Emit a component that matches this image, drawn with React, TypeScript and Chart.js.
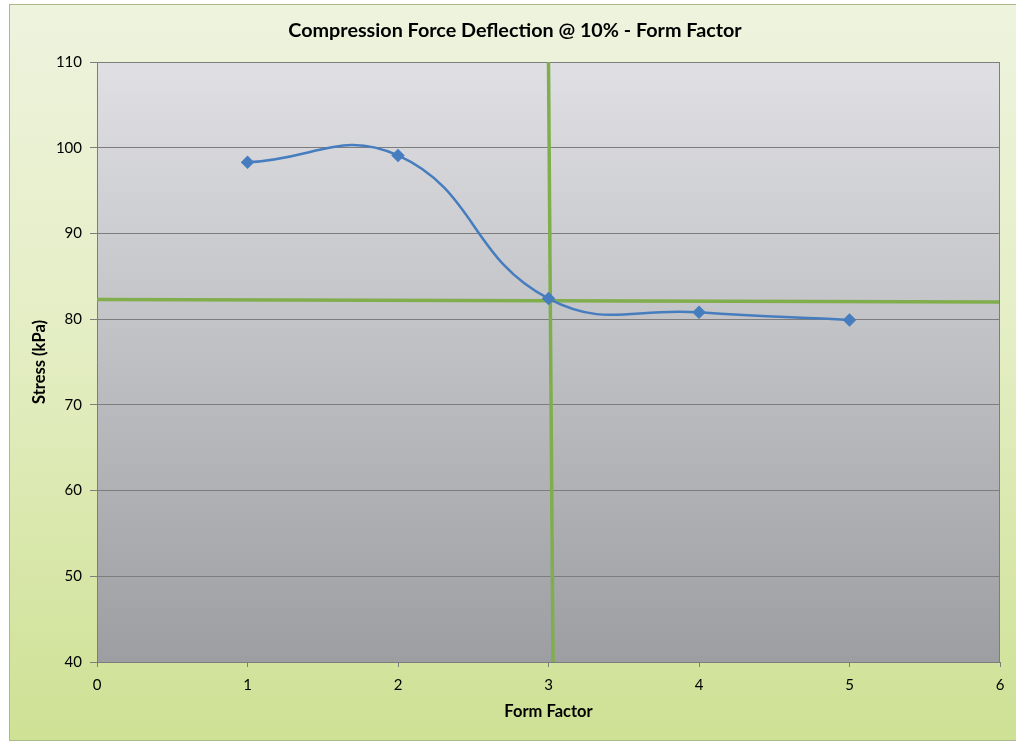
import React, { useEffect, useRef } from "react";
import { Chart, registerables } from "chart.js";

Chart.register(...registerables);

const formFactor = [1, 2, 3, 4, 5];
const stressKPa = [98.3, 99.1, 82.4, 80.8, 79.9];
const horizontalRefX = [0, 6];
const horizontalRefY = [82.3, 82.0];
const verticalRefX = [3.0, 3.03];
const verticalRefY = [110, 40];
const xTicks = [0, 1, 2, 3, 4, 5, 6];
const yTicks = [40, 50, 60, 70, 80, 90, 100, 110];

const FONT = "Lato, 'Open Sans', sans-serif";

const backgroundPlugin = {
  id: "bgPlugin",
  beforeDraw(chart: any) {
    const { ctx, chartArea } = chart;
    const W = chart.width;
    const H = chart.height;
    ctx.save();
    ctx.fillStyle = "#ffffff";
    ctx.fillRect(0, 0, W, H);
    const og = ctx.createLinearGradient(0, 4, 0, 740);
    og.addColorStop(0, "rgb(238,243,222)");
    og.addColorStop(0.45, "rgb(228,238,196)");
    og.addColorStop(1, "rgb(206,225,148)");
    ctx.fillStyle = og;
    ctx.fillRect(9, 4, W + 10, 736);
    ctx.strokeStyle = "rgb(170,185,140)";
    ctx.lineWidth = 1;
    ctx.strokeRect(9.5, 4.5, W + 10, 736);
    const pg = ctx.createLinearGradient(0, chartArea.top, 0, chartArea.bottom);
    pg.addColorStop(0, "rgb(224,224,228)");
    pg.addColorStop(1, "rgb(156,158,162)");
    ctx.fillStyle = pg;
    ctx.fillRect(chartArea.left, chartArea.top, chartArea.right - chartArea.left, chartArea.bottom - chartArea.top);
    ctx.restore();
  },
  afterDatasetsDraw(chart: any) {
    const { ctx, chartArea } = chart;
    ctx.save();
    ctx.strokeStyle = "rgb(125,125,125)";
    ctx.lineWidth = 1;
    ctx.beginPath();
    ctx.moveTo(Math.round(chartArea.right) - 0.5, chartArea.top);
    ctx.lineTo(Math.round(chartArea.right) - 0.5, chartArea.bottom);
    ctx.stroke();
    ctx.restore();
  },
};

export default function App() {
  const ref = useRef<HTMLCanvasElement | null>(null);

  useEffect(() => {
    if (!ref.current) return;
    const chart = new Chart(ref.current, {
      type: "scatter",
      data: {
        datasets: [
          {
            label: "Stress",
            data: formFactor.map((x, i) => ({ x, y: stressKPa[i] })),
            showLine: true,
            borderColor: "rgb(70,125,190)",
            backgroundColor: "rgb(70,125,190)",
            borderWidth: 2.5,
            tension: 0.45,
            pointStyle: "rectRot",
            pointRadius: 5,
            pointHoverRadius: 5,
            order: 1,
          },
          {
            label: "H ref",
            data: horizontalRefX.map((x, i) => ({ x, y: horizontalRefY[i] })),
            showLine: true,
            borderColor: "rgb(128,174,76)",
            borderWidth: 3.5,
            pointRadius: 0,
            tension: 0,
            order: 2,
          },
          {
            label: "V ref",
            data: verticalRefX.map((x, i) => ({ x, y: verticalRefY[i] })),
            showLine: true,
            borderColor: "rgb(128,174,76)",
            borderWidth: 3.5,
            pointRadius: 0,
            tension: 0,
            order: 2,
          },
        ],
      },
      options: {
        animation: false,
        responsive: false,
        layout: { padding: { left: 30, right: 16, top: 0, bottom: 0 } },
        plugins: {
          legend: { display: false },
          tooltip: { enabled: false },
          title: {
            display: true,
            text: "Compression Force Deflection @ 10% - Form Factor",
            color: "#000",
            font: { family: FONT, size: 19.75, weight: "bold", lineHeight: 1.2 },
            padding: { top: 19, bottom: 19.3 },
          },
        },
        scales: {
          x: {
            type: "linear",
            min: 0,
            max: 6,
            afterBuildTicks: (scale: any) => {
              scale.ticks = xTicks.map((v) => ({ value: v }));
            },
            afterFit: (scale: any) => {
              scale.height = 80;
            },
            ticks: {
              color: "#000",
              font: { family: FONT, size: 15 },
              padding: 9,
              maxRotation: 0,
            },
            grid: {
              display: true,
              drawOnChartArea: false,
              drawTicks: true,
              tickLength: 5,
              color: "rgb(125,125,125)",
            },
            border: { display: true, color: "rgb(125,125,125)", width: 1 },
            title: {
              display: true,
              text: "Form Factor",
              color: "#000",
              font: { family: FONT, size: 16.5, weight: "bold", lineHeight: 1.2 },
              padding: { top: 0, bottom: 20 },
            },
          },
          y: {
            type: "linear",
            min: 40,
            max: 110,
            afterBuildTicks: (scale: any) => {
              scale.ticks = yTicks.map((v) => ({ value: v }));
            },
            afterFit: (scale: any) => {
              scale.width = 67;
            },
            ticks: {
              color: "#000",
              font: { family: FONT, size: 15 },
              padding: 8,
            },
            grid: {
              display: true,
              drawOnChartArea: true,
              drawTicks: true,
              tickLength: 7,
              color: "rgb(125,125,125)",
              lineWidth: 1,
            },
            border: { display: true, color: "rgb(125,125,125)", width: 1 },
            title: {
              display: true,
              text: "Stress (kPa)",
              color: "#000",
              font: { family: FONT, size: 16.5, weight: "bold", lineHeight: 1.2 },
              padding: { top: 0, bottom: 0 },
            },
          },
        },
      },
      plugins: [backgroundPlugin],
    } as any);
    return () => chart.destroy();
  }, []);

  return (
    <div style={{ position: "absolute", left: 0, top: 0, width: 1016, height: 742 }}>
      <canvas ref={ref} width={1016} height={742} style={{ display: "block", width: 1016, height: 742 }} />
    </div>
  );
}
